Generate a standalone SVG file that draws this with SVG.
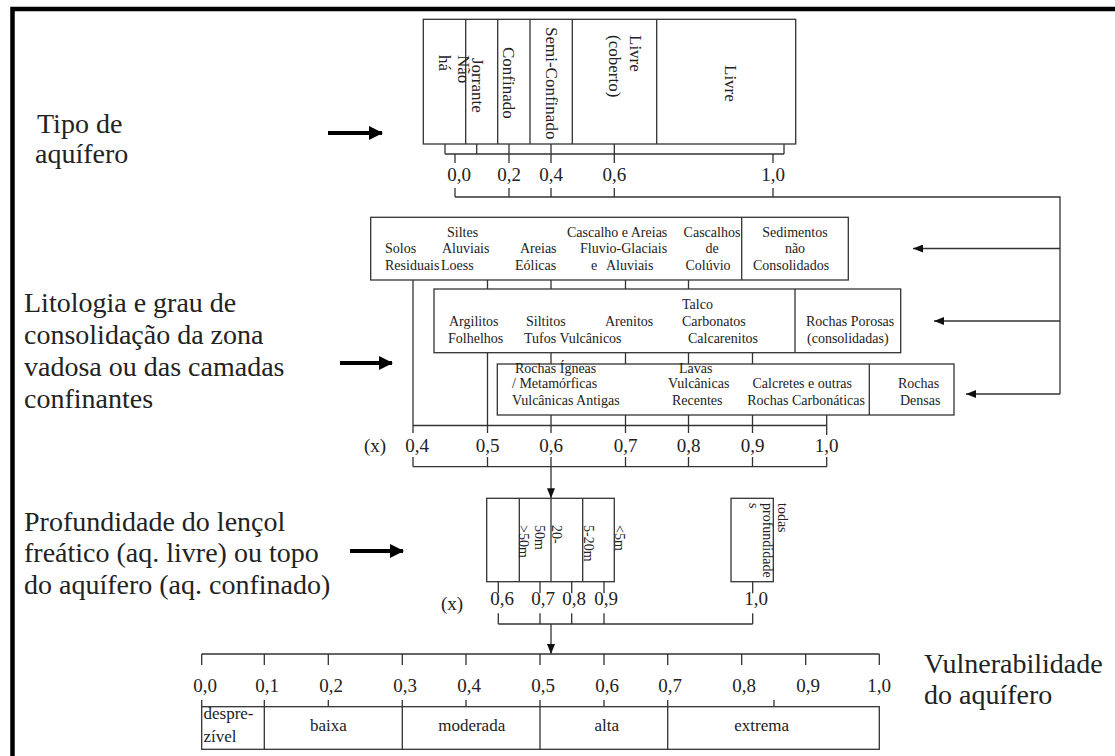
<svg xmlns="http://www.w3.org/2000/svg" width="1115" height="756" viewBox="0 0 1115 756">
<style>
.ln{stroke:#333;stroke-width:1.3;fill:none}
.bx{fill:#fff;stroke:#333;stroke-width:1.3}
.t{font-family:"Liberation Serif","Times New Roman",serif;fill:#222}
.s14{font-size:14px}
.s17{font-size:17px}
.s19{font-size:19px}
.big{font-size:28px}
.m{text-anchor:middle}
.e{text-anchor:end}
.ba{stroke:#000;stroke-width:4;fill:none}
</style>
<defs>
<marker id="ah" viewBox="0 0 10 8" refX="10" refY="4" markerWidth="10" markerHeight="8" markerUnits="userSpaceOnUse" orient="auto">
<path d="M0,0 L10,4 L0,8 z" fill="#111"/>
</marker>
<marker id="bh" viewBox="0 0 14 14" refX="13" refY="7" markerWidth="14" markerHeight="14" markerUnits="userSpaceOnUse" orient="auto">
<path d="M0,0 L14,7 L0,14 z" fill="#000"/>
</marker>
</defs>
<rect width="1115" height="756" fill="#fff"/>
<path d="M12.5,756 V9 H1115" stroke="#000" stroke-width="4.5" fill="none"/>

<g id="labels-left" class="t big">
<text x="37" y="133">Tipo de</text>
<text x="35" y="163">aquífero</text>
<text x="24" y="311.5">Litologia e grau de</text>
<text x="24" y="343.5">consolidação da zona</text>
<text x="24" y="375.5">vadosa ou das camadas</text>
<text x="24" y="407.5">confinantes</text>
<text x="24" y="530.5">Profundidade do lençol</text>
<text x="24" y="562">freático (aq. livre) ou topo</text>
<text x="24" y="593.5">do aquífero (aq. confinado)</text>
<text x="924" y="673">Vulnerabilidade</text>
<text x="924" y="704">do aquífero</text>
</g>

<g id="big-arrows">
<line class="ba" x1="328" y1="133" x2="382" y2="133" marker-end="url(#bh)"/>
<line class="ba" x1="340" y1="363" x2="392" y2="363" marker-end="url(#bh)"/>
<line class="ba" x1="350" y1="551" x2="403" y2="551" marker-end="url(#bh)"/>
</g>

<g id="connectors">
<path class="ln" d="M445,144V154 M476.7,144V154 M509,144V154 M551,144V154 M614.3,144V154 M784,144V154 M445,154H784"/>
<path class="ln" d="M455,154V163 M509,154V163 M551,154V163 M614.3,154V163 M773,154V163"/>
<path class="ln" d="M455,188V197 M509,188V197 M551,188V197 M614.3,188V197 M773,188V197 M455,197H1060V394"/>
<line class="ln" x1="1060" y1="248.5" x2="913" y2="248.5" marker-end="url(#ah)"/>
<line class="ln" x1="1060" y1="321" x2="934" y2="321" marker-end="url(#ah)"/>
<line class="ln" x1="1060" y1="394" x2="966" y2="394" marker-end="url(#ah)"/>
<path class="ln" d="M413,280V433 M487.5,280V289 M487.5,353V433 M551,280V289 M551,353V364 M551,415V433 M625.5,280V289 M625.5,353V364 M625.5,415V433 M688.5,280V289 M688.5,353V364 M688.5,415V433 M752.5,353V364 M752.5,415V433 M826.7,415V435"/>
<path class="ln" d="M413,425.5H826.7"/>
<path class="ln" d="M413,457V466.7 M487.5,457V466.7 M551,457V466.7 M625.5,457V466.7 M688.5,457V466.7 M752.5,457V466.7 M826.7,457V466.7 M413,466.7H826.7"/>
<line class="ln" x1="551" y1="466.7" x2="551" y2="498.3" marker-end="url(#ah)"/>
<path class="ln" d="M498.3,581.7V593.3 M540,581.7V593.3 M571.7,581.7V593.3 M604,581.7V593.3 M752.7,581.7V593.3"/>
<path class="ln" d="M498.3,613.3V624 M540,613.3V624 M571.7,613.3V624 M604,613.3V624 M752.7,613.3V624 M498.3,624H752.7"/>
<line class="ln" x1="551" y1="624" x2="551" y2="654" marker-end="url(#ah)"/>
</g>

<g id="tipo-aquifero">
<rect class="bx" x="423.3" y="19.3" width="372.4" height="124.7"/>
<path class="ln" d="M465.7,19.3V144 M497.7,19.3V144 M530,19.3V144 M572.3,19.3V144 M656.7,19.3V144"/>
<g class="t s17">
<text transform="translate(458,55) rotate(90)">Não</text>
<text transform="translate(439,55) rotate(90)">há</text>
<text transform="translate(472,58) rotate(90)">Jorrante</text>
<text transform="translate(503,47) rotate(90)">Confinado</text>
<text transform="translate(546,27) rotate(90)">Semi-Confinado</text>
<text transform="translate(630,35) rotate(90)">Livre</text>
<text transform="translate(609,35) rotate(90)">(coberto)</text>
<text transform="translate(725,65) rotate(90)">Livre</text>
</g>
<g class="t s19 m">
<text x="459" y="181">0,0</text>
<text x="509" y="181">0,2</text>
<text x="551" y="181">0,4</text>
<text x="614.3" y="181">0,6</text>
<text x="773" y="181">1,0</text>
</g>
</g>

<g id="litologia-a">
<rect class="bx" x="370.7" y="217.3" width="477.6" height="62.7"/>
<line class="ln" x1="741.7" y1="217.3" x2="741.7" y2="280"/>
<g class="t s14">
<text x="385" y="253">Solos</text>
<text x="385" y="269.5">Residuais</text>
<text x="447" y="236.5">Siltes</text>
<text x="442" y="253">Aluviais</text>
<text x="441" y="269.5">Loess</text>
<text x="520" y="253">Areias</text>
<text x="515" y="269.5">Eólicas</text>
<text x="567" y="236.5">Cascalho e Areias</text>
<text x="580" y="253">Fluvio-Glaciais</text>
<text y="269.5"><tspan x="591">e</tspan><tspan x="606">Aluviais</tspan></text>
<text class="m" x="712" y="236.5">Cascalhos</text>
<text class="m" x="712" y="253">de</text>
<text class="m" x="708" y="269.5">Colúvio</text>
<text class="m" x="795" y="236.5">Sedimentos</text>
<text class="m" x="795" y="253">não</text>
<text class="m" x="791" y="269.5">Consolidados</text>
</g>
</g>

<g id="litologia-b">
<rect class="bx" x="434" y="289" width="466.7" height="63.7"/>
<line class="ln" x1="795" y1="289" x2="795" y2="352.7"/>
<g class="t s14">
<text x="449" y="326">Argilitos</text>
<text x="448" y="342.5">Folhelhos</text>
<text x="526" y="326">Siltitos</text>
<text x="524" y="342.5">Tufos Vulcânicos</text>
<text x="605" y="326">Arenitos</text>
<text x="682" y="308.5">Talco</text>
<text x="682" y="326">Carbonatos</text>
<text x="688" y="342.5">Calcarenitos</text>
<text x="806" y="326">Rochas Porosas</text>
<text x="807" y="342.5">(consolidadas)</text>
</g>
</g>

<g id="litologia-c">
<rect class="bx" x="497.3" y="364" width="456.7" height="51"/>
<line class="ln" x1="869.3" y1="364" x2="869.3" y2="415"/>
<g class="t s14">
<text x="515" y="372.5">Rochas Ígneas</text>
<text x="512" y="388">/ Metamórficas</text>
<text x="512" y="404.5">Vulcânicas Antigas</text>
<text x="679" y="372.5">Lavas</text>
<text x="668" y="388">Vulcânicas</text>
<text x="672" y="404.5">Recentes</text>
<text class="e" x="852" y="388">Calcretes e outras</text>
<text class="e" x="865" y="404.5">Rochas Carbonáticas</text>
<text x="898" y="388">Rochas</text>
<text x="900" y="404.5">Densas</text>
</g>
</g>

<g id="escala-litologia" class="t s19">
<text x="375" y="452" class="m">(x)</text>
<text class="m" x="417" y="452">0,4</text>
<text class="m" x="487.5" y="452">0,5</text>
<text class="m" x="551" y="452">0,6</text>
<text class="m" x="625.5" y="452">0,7</text>
<text class="m" x="688.5" y="452">0,8</text>
<text class="m" x="752.5" y="452">0,9</text>
<text class="m" x="826.7" y="452">1,0</text>
</g>

<g id="profundidade">
<rect class="bx" x="486.7" y="498.3" width="127.6" height="83.4"/>
<path class="ln" d="M519.3,498.3V581.7 M551,498.3V581.7 M582.7,498.3V581.7"/>
<rect class="bx" x="731" y="498.3" width="42.3" height="83.4"/>
<g class="t s14">
<text transform="translate(552,525) rotate(90)">20-</text>
<text transform="translate(535,525) rotate(90)">50m</text>
<text transform="translate(519,525) rotate(90)">&gt;50m</text>
<text transform="translate(584,525) rotate(90)">5-20m</text>
<text transform="translate(615,525) rotate(90)">&lt;5m</text>
<text transform="translate(778,503) rotate(90)">todas</text>
<text transform="translate(763,503) rotate(90)">profundidade</text>
<text transform="translate(749,503) rotate(90)">s</text>
</g>
<g class="t s19 m">
<text x="452" y="610">(x)</text>
<text x="502" y="604.5">0,6</text>
<text x="543" y="604.5">0,7</text>
<text x="574" y="604.5">0,8</text>
<text x="606" y="604.5">0,9</text>
<text x="756" y="604.5">1,0</text>
</g>
</g>

<g id="vulnerabilidade">
<path class="ln" d="M201.7,654H879.3 M201.7,654V665 M264.3,654V665 M328.3,654V665 M402.3,654V665 M466,654V665 M540,654V665 M604,654V665 M667.7,654V665 M741.7,654V665 M805.7,654V665 M879.3,654V665"/>
<path class="ln" d="M201.7,700V706.7 M264.3,700V706.7 M328.3,700V706.7 M402.3,700V706.7 M466,700V706.7 M540,700V706.7 M604,700V706.7 M667.7,700V706.7 M774,700V706.7"/>
<g class="t s19 m">
<text x="205" y="691.5">0,0</text>
<text x="267" y="691.5">0,1</text>
<text x="331" y="691.5">0,2</text>
<text x="405" y="691.5">0,3</text>
<text x="469" y="691.5">0,4</text>
<text x="543" y="691.5">0,5</text>
<text x="607" y="691.5">0,6</text>
<text x="670" y="691.5">0,7</text>
<text x="744" y="691.5">0,8</text>
<text x="808" y="691.5">0,9</text>
<text x="879" y="691.5">1,0</text>
</g>
<rect class="bx" x="201.7" y="706.7" width="677.6" height="42.6"/>
<path class="ln" d="M264.3,706.7V749.3 M402.3,706.7V749.3 M540,706.7V749.3 M667.7,706.7V749.3"/>
<g class="t s17">
<text x="203.5" y="719">despre-</text>
<text x="203.5" y="742">zível</text>
<text class="m" x="328.3" y="731">baixa</text>
<text class="m" x="471.7" y="731">moderada</text>
<text class="m" x="606.7" y="731">alta</text>
<text class="m" x="761.7" y="731">extrema</text>
</g>
</g>
</svg>
